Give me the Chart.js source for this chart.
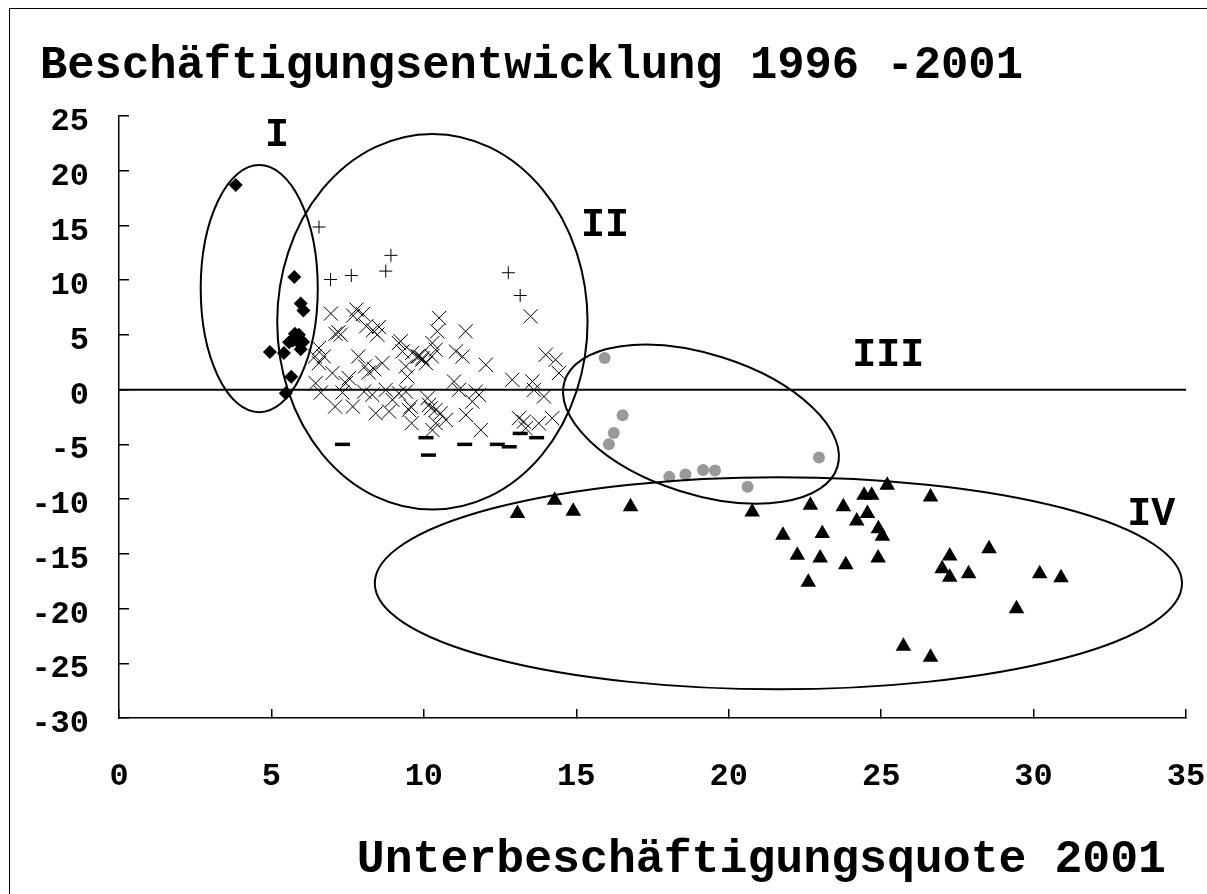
<!DOCTYPE html>
<html lang="de">
<head>
<meta charset="utf-8">
<title>Beschäftigungsentwicklung 1996 - 2001</title>
<script src="https://cdn.jsdelivr.net/npm/chart.js@4.4.1/dist/chart.umd.min.js"></script>
<style>
  html, body { margin: 0; padding: 0; background: #fff; overflow: hidden; }
  #wrap  { position: relative; width: 1207px; height: 894px; }
  #frame { position: absolute; left: 9px; top: 8px; width: 1300px; height: 1000px;
           border: 1.5px solid #000; box-sizing: border-box; pointer-events: none; }
  #chart { position: absolute; left: 0; top: 0; }
</style>
</head>
<body>
<div id="wrap">
  <canvas id="chart" width="1207" height="894"></canvas>
  <div id="frame"></div>
</div>

<script>
// ── Data (x = Unterbeschäftigungsquote 2001, y = Beschäftigungsentwicklung) ──

const xTicks = [0, 5, 10, 15, 20, 25, 30, 35];
const yTicks = [25, 20, 15, 10, 5, 0, -5, -10, -15, -20, -25, -30];

// Gruppe I – Rauten
const groupI = [
  [3.83, 18.7], [5.75, 10.28], [5.96, 7.86], [6.05, 7.22], [5.77, 5.11],
  [5.90, 5.02], [5.58, 4.32], [5.94, 4.17], [6.04, 4.35], [5.96, 3.70],
  [4.95, 3.44], [5.41, 3.34], [5.65, 1.17], [5.47, -0.33], [5.80, 4.80],
  [5.70, 4.50]
];

// Gruppe II – Plus
const groupIIplus = [
  [6.56, 14.86], [6.94, 10.06], [7.62, 10.43], [8.75, 10.83], [8.92, 12.27],
  [12.77, 10.68], [13.16, 8.60]
];

// Gruppe II – Kreuze
const groupIIcross = [
  [6.95, 6.95], [7.79, 7.31], [7.68, 6.76], [8.00, 6.90], [7.20, 5.24],
  [7.27, 5.02], [7.10, 5.10], [8.11, 5.79], [8.33, 5.42], [8.47, 5.02],
  [8.53, 5.72], [6.56, 3.80], [6.43, 3.03], [6.72, 3.03], [7.85, 3.03],
  [8.07, 2.12], [8.19, 1.57], [8.37, 1.87], [8.64, 2.42], [9.18, 4.26],
  [9.30, 3.49], [9.41, 2.12], [9.46, 1.20], [9.84, 3.03], [9.95, 2.88],
  [10.07, 2.42], [10.26, 3.03], [10.28, 4.26], [6.56, 2.42], [6.45, 0.59],
  [6.62, -0.27], [7.00, 1.51], [7.09, -1.55], [7.44, 0.59], [7.54, 1.05],
  [7.67, -1.55], [7.33, -0.27], [8.04, -0.18], [8.31, -0.48], [8.42, -2.16],
  [8.75, -0.02], [8.86, -2.00], [8.97, -0.94], [9.18, -0.33], [9.41, -0.18],
  [9.57, -1.55], [9.60, -3.07], [10.12, -0.78], [10.23, -1.70], [10.39, -3.07],
  [9.24, 4.41], [9.62, 3.35], [9.79, 3.03], [9.95, 2.73], [10.50, 6.55],
  [10.44, 5.33], [10.39, 3.65], [11.37, 5.33], [11.05, 3.49], [11.27, 3.03],
  [12.03, 2.27], [10.99, 0.74], [11.15, -0.02], [11.70, -0.18], [11.81, -0.48],
  [11.59, -1.09], [9.51, -1.85], [10.17, -1.39], [10.39, -1.85], [10.55, -2.16],
  [10.72, -2.77], [10.28, -3.69], [11.38, -2.31], [11.87, -3.69], [12.90, 0.90],
  [13.50, 6.70], [13.56, 0.74], [13.61, -0.02], [13.94, -0.63], [14.00, 3.19],
  [14.32, 2.73], [14.43, 1.51], [13.12, -2.61], [13.28, -2.92], [13.77, -3.07],
  [14.21, -2.61], [13.34, -3.53]
];

// Gruppe II – Striche
const groupIIdash = [
  [7.33, -5.00], [10.07, -4.39], [10.15, -5.98], [11.34, -5.00], [12.41, -5.00],
  [12.80, -5.22], [13.16, -4.00], [13.70, -4.39]
];

// Gruppe III – graue Punkte
const groupIII = [
  [15.93, 2.89], [16.52, -2.34], [16.23, -3.96], [16.07, -5.00], [18.05, -7.97],
  [18.58, -7.75], [19.16, -7.35], [19.55, -7.38], [22.96, -6.19], [20.62, -8.88]
];

// Gruppe IV – Dreiecke
const groupIV = [
  [13.07, -11.32], [14.29, -10.10], [14.90, -11.11], [16.78, -10.71], [20.77, -11.17],
  [21.78, -13.31], [22.25, -15.14], [22.61, -17.59], [22.68, -10.56], [23.00, -15.39],
  [23.07, -13.15], [23.76, -10.71], [23.84, -16.00], [24.20, -12.00], [24.44, -9.64],
  [24.69, -9.64], [24.55, -11.32], [24.91, -12.70], [25.04, -13.40], [24.90, -15.39],
  [25.20, -8.73], [26.62, -9.80], [25.73, -23.45], [26.62, -24.46], [27.25, -15.20],
  [27.00, -16.36], [27.25, -17.13], [27.87, -16.82], [28.54, -14.53], [30.20, -16.82],
  [30.90, -17.19], [29.44, -20.03]
];

// Nulllinie
const zeroLineX = [0, 35];
const zeroLineY = [0, 0];

// Gruppen-Ellipsen (Mittelpunkt und Radien in Achseneinheiten, Drehung in Grad)
const regionNames = ['I', 'II', 'III', 'IV'];
const regionLabelX = [5.18, 15.94, 25.23, 33.86];
const regionLabelY = [22.3, 14.0, 2.2, -12.4];
const regionCx = [4.60, 10.28, 19.09, 21.63];
const regionCy = [9.23, 6.20, -3.15, -17.69];
const regionRx = [1.92, 5.09, 4.69, 13.24];
const regionRy = [11.29, 17.16, 6.40, 9.69];
const regionRot = [0, 0, 17.5, 0];

const chartTitle = 'Beschäftigungsentwicklung 1996 -2001';
const xTitle = 'Unterbeschäftigungsquote 2001';

// ── Helpers ────────────────────────────────────────────────────────────────────

const FONT = '"Liberation Mono", "Courier New", monospace';

function toPoints(pairs) {
  return pairs.map(([x, y]) => ({ x, y }));
}

// Ellipsen, römische Ziffern, Titel und x-Achsentitel
const regionPlugin = {
  id: 'regions',
  afterDatasetsDraw(chart) {
    const { ctx, chartArea, scales: { x, y } } = chart;
    const pxPerX = x.getPixelForValue(1) - x.getPixelForValue(0);
    const pxPerY = y.getPixelForValue(0) - y.getPixelForValue(1);

    ctx.save();
    ctx.strokeStyle = '#000';
    ctx.lineWidth = 2;
    regionCx.forEach((cx, i) => {
      ctx.beginPath();
      ctx.ellipse(
        x.getPixelForValue(cx), y.getPixelForValue(regionCy[i]),
        regionRx[i] * pxPerX, regionRy[i] * pxPerY,
        regionRot[i] * Math.PI / 180, 0, Math.PI * 2
      );
      ctx.stroke();
    });

    ctx.fillStyle = '#000';
    ctx.font = 'bold 40px ' + FONT;
    ctx.textAlign = 'center';
    ctx.textBaseline = 'alphabetic';
    regionNames.forEach((name, i) => {
      ctx.fillText(name, x.getPixelForValue(regionLabelX[i]), y.getPixelForValue(regionLabelY[i]));
    });

    ctx.font = 'bold 45.5px ' + FONT;
    ctx.textAlign = 'left';
    ctx.fillText(chartTitle, 40, chartArea.top - 38);

    ctx.font = 'bold 46.5px ' + FONT;
    ctx.textAlign = 'right';
    ctx.fillText(xTitle, chartArea.right - 20, chartArea.bottom + 154);
    ctx.restore();
  }
};

// ── Chart ──────────────────────────────────────────────────────────────────────

const tickFont = { family: FONT, size: 32, weight: 'bold' };

new Chart(document.getElementById('chart').getContext('2d'), {
  type: 'scatter',
  data: {
    datasets: [
      {
        label: 'Null',
        data: zeroLineX.map((x, i) => ({ x, y: zeroLineY[i] })),
        showLine: true,
        borderColor: '#000',
        borderWidth: 2,
        pointRadius: 0
      },
      {
        label: 'I',
        data: toPoints(groupI),
        pointStyle: 'rectRot',
        pointRadius: 7,
        backgroundColor: '#000',
        borderColor: '#000',
        borderWidth: 0
      },
      {
        label: 'II +',
        data: toPoints(groupIIplus),
        pointStyle: 'cross',
        pointRadius: 6.5,
        borderColor: '#000',
        borderWidth: 1
      },
      {
        label: 'II x',
        data: toPoints(groupIIcross),
        pointStyle: 'crossRot',
        pointRadius: 10,
        borderColor: '#000',
        borderWidth: 1
      },
      {
        label: 'II -',
        data: toPoints(groupIIdash),
        pointStyle: 'line',
        pointRadius: 7.5,
        borderColor: '#000',
        borderWidth: 3.5
      },
      {
        label: 'III',
        data: toPoints(groupIII),
        pointStyle: 'circle',
        pointRadius: 6,
        backgroundColor: '#999999',
        borderColor: '#999999',
        borderWidth: 0
      },
      {
        label: 'IV',
        data: toPoints(groupIV),
        pointStyle: 'triangle',
        pointRadius: 9,
        backgroundColor: '#000',
        borderColor: '#000',
        borderWidth: 0
      }
    ]
  },
  options: {
    responsive: false,
    animation: false,
    events: [],
    layout: { padding: { left: 0, right: 21, top: 116, bottom: 0 } },
    plugins: {
      legend: { display: false },
      tooltip: { enabled: false },
      title: { display: false }
    },
    scales: {
      x: {
        type: 'linear',
        min: xTicks[0],
        max: xTicks[xTicks.length - 1],
        afterFit: scale => {
          scale.height = 176;
          scale.paddingLeft = 0;
          scale.paddingRight = 0;
        },
        afterBuildTicks: scale => { scale.ticks = xTicks.map(v => ({ value: v })); },
        ticks: { color: '#000', font: tickFont, padding: 49, maxRotation: 0, autoSkip: false },
        grid: { drawOnChartArea: false, tickLength: -9, color: '#000', lineWidth: 1.5 },
        border: { color: '#000', width: 1.5 }
      },
      y: {
        type: 'linear',
        min: yTicks[yTicks.length - 1],
        max: yTicks[0],
        afterFit: scale => {
          scale.width = 119;
          scale.paddingTop = 0;
          scale.paddingBottom = 0;
        },
        afterBuildTicks: scale => { scale.ticks = yTicks.map(v => ({ value: v })); },
        ticks: { color: '#000', font: tickFont, padding: 40, labelOffset: 6, autoSkip: false },
        grid: { drawOnChartArea: false, tickLength: -10, color: '#000', lineWidth: 1.5 },
        border: { color: '#000', width: 1.5 }
      }
    }
  },
  plugins: [regionPlugin]
});
</script>
</body>
</html>
